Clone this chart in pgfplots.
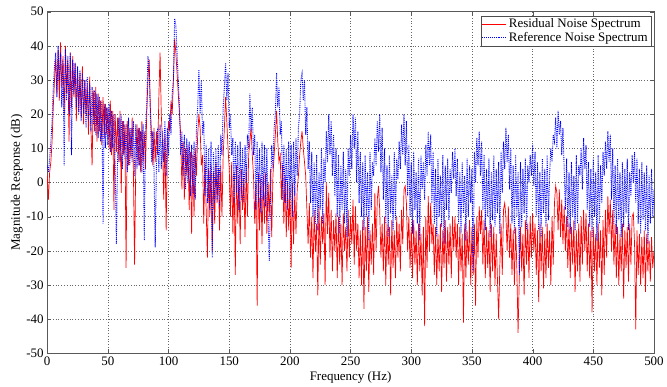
\documentclass[border={7.5pt 0pt 0pt 4pt}]{standalone}
\usepackage{fontspec}
\setmainfont{Liberation Serif}
\usepackage{pgfplots}
\pgfplotsset{compat=1.18}
\usepackage{pgfplotstable}

\pgfplotstableread[header=false,row sep=\\]{
2\\ -5\\ 3\\ 6\\ 12\\ 22\\ 30\\ 36\\ 26\\ 39\\
24\\ 41\\ 28\\ 37\\ 20\\ 40\\ 26\\ 36\\ 12\\ 38\\
22\\ 37\\ 25\\ 35\\ 18\\ 33\\ 21\\ 32\\ 19\\ 34\\
17\\ 30\\ 20\\ 29\\ 14\\ 31\\ 16\\ 5\\ 27\\ 15\\
28\\ 12\\ 26\\ 15\\ 24\\ 11\\ 25\\ 13\\ 23\\ 14\\
22\\ 10\\ 24\\ 8\\ 21\\ -8\\ 20\\ 9\\ 19\\ 6\\
21\\ -3\\ 18\\ 8\\ 17\\ -25\\ 18\\ 5\\ 16\\ 7\\
19\\ 4\\ -24\\ 6\\ 17\\ 5\\ 16\\ 3\\ 18\\ 6\\
15\\ 4\\ 20\\ 30\\ 36\\ 22\\ 14\\ 5\\ 16\\ 6\\
15\\ 8\\ 25\\ 38\\ 20\\ 12\\ -5\\ 14\\ -14\\ 10\\
18\\ 15\\ 24\\ 20\\ 30\\ 42\\ 38\\ 32\\ 26\\ 20\\
14\\ -2\\ 12\\ -5\\ 10\\ 2\\ 11\\ -8\\ 9\\ -15\\
8\\ -10\\ 10\\ 2\\ 14\\ 20\\ 16\\ 5\\ 8\\ -12\\
6\\ -8\\ -22\\ 4\\ -10\\ 5\\ -20\\ 3\\ -12\\ 6\\
-6\\ 4\\ -14\\ 5\\ -10\\ 8\\ 16\\ 25\\ 18\\ 10\\
4\\ -10\\ 6\\ -15\\ 3\\ -27\\ 5\\ -12\\ 2\\ -18\\
4\\ -8\\ 1\\ -16\\ 5\\ -10\\ 8\\ 12\\ 16\\ 8\\
2\\ -12\\ 0\\ -36\\ 3\\ -14\\ 1\\ -18\\ 2\\ -12\\
3\\ -15\\ 0\\ -10\\ 4\\ -16\\ 2\\ 8\\ 14\\ 21\\
12\\ 6\\ 8\\ -5\\ 5\\ -12\\ 2\\ -16\\ 0\\ -14\\
-2\\ -25\\ 0\\ -18\\ -3\\ -15\\ -2\\ 2\\ 8\\ 12\\
15\\ 10\\ 6\\ 2\\ -8\\ -18\\ -6\\ -22\\ -10\\ -28\\
-8\\ -20\\ -12\\ -33\\ -7\\ -24\\ -10\\ -18\\ -9\\ -30\\
0\\ -15\\ -3\\ -22\\ -8\\ -26\\ -11\\ -20\\ -9\\ -28\\
-10\\ -24\\ -12\\ -30\\ -9\\ -20\\ -13\\ -26\\ -8\\ -22\\
-10\\ -18\\ -5\\ -24\\ -7\\ -20\\ -12\\ -28\\ -14\\ -30\\
-11\\ -37\\ -13\\ -26\\ -10\\ -32\\ -14\\ -24\\ -12\\ -27\\
-3\\ -20\\ -5\\ -1\\ -8\\ -22\\ -12\\ -26\\ -10\\ -30\\
-12\\ -24\\ -13\\ -33\\ -11\\ -25\\ -14\\ -28\\ -10\\ -22\\
-12\\ -26\\ -8\\ -18\\ -2\\ -1\\ -6\\ -20\\ -10\\ -25\\
-13\\ -28\\ -11\\ -24\\ -14\\ -30\\ -12\\ -26\\ -15\\ -33\\
-13\\ -42\\ -10\\ -25\\ -4\\ -20\\ -6\\ -18\\ -12\\ -27\\
-13\\ -30\\ -15\\ -26\\ -12\\ -32\\ -14\\ -25\\ -11\\ -29\\
-13\\ -24\\ -12\\ -28\\ -10\\ -20\\ -10\\ -22\\ -12\\ -30\\
-13\\ -26\\ -15\\ -41\\ -12\\ -28\\ -14\\ -24\\ -11\\ -30\\
-13\\ -27\\ -12\\ -36\\ -10\\ -22\\ -7\\ -15\\ -8\\ -24\\
-11\\ -28\\ -13\\ -25\\ -14\\ -32\\ -12\\ -26\\ -13\\ -30\\
-15\\ -28\\ -40\\ -24\\ -12\\ -27\\ -8\\ -6\\ -10\\ -20\\
-7\\ -22\\ -12\\ -27\\ -14\\ -30\\ -13\\ -25\\ -44\\ -28\\
-13\\ -26\\ -15\\ -33\\ -11\\ -24\\ -12\\ -28\\ -10\\ -22\\
-9\\ -20\\ -12\\ -27\\ -14\\ -35\\ -12\\ -26\\ -13\\ -31\\
-15\\ -28\\ -12\\ -25\\ -14\\ -30\\ -10\\ -24\\ -6\\ -1\\
-3\\ -14\\ -2\\ -16\\ -5\\ -18\\ -7\\ -20\\ -10\\ -25\\
-12\\ -28\\ -13\\ -24\\ -11\\ -32\\ -14\\ -26\\ -12\\ -29\\
-10\\ -24\\ -8\\ -20\\ -9\\ -26\\ -12\\ -28\\ -14\\ -38\\
-13\\ -26\\ -15\\ -30\\ -12\\ -25\\ -14\\ -33\\ -11\\ -27\\
-8\\ -22\\ -4\\ -15\\ -5\\ -20\\ -8\\ -24\\ -12\\ -28\\
-13\\ -30\\ -15\\ -26\\ -12\\ -34\\ -14\\ -25\\ -13\\ -29\\
-12\\ -24\\ -10\\ -9\\ -18\\ -43\\ -14\\ -27\\ -15\\ -30\\
-16\\ -28\\ -14\\ -32\\ -15\\ -26\\ -17\\ -29\\ -16\\ -25\\
-20\\
}\residual

\pgfplotstableread[header=false,row sep=\\]{
5\\ 3\\ 7\\ 12\\ 18\\ 28\\ 34\\ 38\\ 25\\ 40\\
30\\ 38\\ 22\\ 36\\ 5\\ 39\\ 24\\ 37\\ 20\\ 38\\
8\\ 36\\ 26\\ 35\\ 22\\ 34\\ 20\\ 33\\ 18\\ 32\\
20\\ 30\\ 16\\ 31\\ 18\\ 29\\ 15\\ 28\\ 17\\ 27\\
14\\ 26\\ 13\\ 25\\ 12\\ 24\\ -12\\ 23\\ 10\\ 22\\
11\\ 23\\ 9\\ 21\\ 10\\ 20\\ 5\\ -18\\ 8\\ 19\\
6\\ 20\\ 4\\ 18\\ 7\\ 17\\ 3\\ 19\\ 5\\ 16\\
6\\ 18\\ 2\\ 17\\ 4\\ 16\\ 5\\ 15\\ 3\\ 17\\
-17\\ 16\\ 22\\ 37\\ 34\\ 20\\ 6\\ 15\\ 4\\ -19\\
5\\ 16\\ 3\\ 17\\ 4\\ 15\\ 6\\ 18\\ 2\\ 16\\
8\\ 20\\ 14\\ 26\\ 30\\ 48\\ 46\\ 38\\ 30\\ 22\\
8\\ 15\\ 2\\ 14\\ -2\\ 13\\ 0\\ 12\\ -4\\ 11\\
-3\\ 12\\ -5\\ 16\\ 22\\ 33\\ 20\\ 30\\ 14\\ 18\\
-4\\ 11\\ -6\\ 10\\ -8\\ 12\\ -22\\ 9\\ -6\\ 10\\
-5\\ 11\\ -7\\ 14\\ 8\\ 22\\ 28\\ 35\\ 24\\ 32\\
16\\ 20\\ 8\\ 13\\ -6\\ 12\\ -3\\ 11\\ -8\\ 12\\
-5\\ 10\\ -6\\ 11\\ 0\\ 14\\ 10\\ 26\\ 15\\ 22\\
8\\ 14\\ -8\\ 12\\ -6\\ 10\\ -9\\ 12\\ -5\\ 11\\
-7\\ 10\\ -10\\ -23\\ -4\\ 11\\ 4\\ 16\\ 20\\ 32\\
22\\ 28\\ 14\\ 18\\ -5\\ 11\\ -6\\ 10\\ -8\\ 12\\
-5\\ 11\\ -10\\ 12\\ -4\\ 13\\ 2\\ 16\\ 20\\ 30\\
32\\ 24\\ 30\\ 14\\ 22\\ 4\\ 12\\ -6\\ 9\\ -10\\
6\\ -12\\ 8\\ -14\\ 3\\ -8\\ 10\\ -12\\ 7\\ 0\\
15\\ 6\\ 20\\ 8\\ 18\\ 2\\ 14\\ -4\\ 10\\ -10\\
8\\ -15\\ 5\\ -8\\ 9\\ -12\\ 4\\ -16\\ 10\\ 2\\
14\\ 4\\ 20\\ 10\\ 19\\ 0\\ 15\\ -6\\ 9\\ -10\\
6\\ -14\\ 8\\ -10\\ 3\\ -17\\ 9\\ -8\\ 6\\ 2\\
13\\ 5\\ 18\\ 9\\ 20\\ 3\\ 16\\ -5\\ 10\\ -12\\
5\\ -16\\ 8\\ -9\\ 2\\ -14\\ 9\\ -11\\ 7\\ 1\\
12\\ 4\\ 17\\ 8\\ 20\\ 5\\ 18\\ -4\\ 11\\ -10\\
6\\ -15\\ 9\\ -8\\ 3\\ -12\\ 7\\ -17\\ 8\\ -2\\
6\\ -5\\ 11\\ 2\\ 15\\ 5\\ 14\\ -6\\ 9\\ -12\\
4\\ -16\\ 7\\ -10\\ 2\\ -13\\ 8\\ -18\\ 5\\ -8\\
7\\ -11\\ 4\\ -3\\ 9\\ 1\\ 10\\ -4\\ 7\\ -12\\
3\\ -15\\ 6\\ -9\\ 2\\ -17\\ 7\\ -10\\ 5\\ -6\\
4\\ -26\\ 9\\ 0\\ 13\\ 5\\ 15\\ 2\\ 12\\ -8\\
8\\ -14\\ 4\\ -10\\ 7\\ -16\\ 3\\ -11\\ 8\\ -13\\
4\\ -9\\ 6\\ -15\\ 9\\ -3\\ 12\\ 4\\ 16\\ 6\\
14\\ -2\\ 10\\ -12\\ 5\\ -15\\ 8\\ -10\\ 3\\ -27\\
6\\ -13\\ 4\\ -9\\ 7\\ -14\\ 5\\ 0\\ 8\\ 2\\
11\\ -1\\ 9\\ -10\\ 6\\ -14\\ 3\\ -16\\ 7\\ -9\\
4\\ -13\\ 8\\ -11\\ 2\\ 10\\ 6\\ 14\\ 12\\ 19\\
10\\ 21\\ 14\\ 18\\ 8\\ 16\\ 4\\ -8\\ 7\\ -13\\
3\\ -15\\ 6\\ -10\\ 2\\ -14\\ 8\\ -12\\ 5\\ 2\\
10\\ -2\\ 13\\ 4\\ 11\\ -8\\ 6\\ -13\\ 4\\ -16\\
7\\ -10\\ 3\\ -17\\ 8\\ -12\\ 5\\ -6\\ 9\\ 2\\
12\\ 4\\ 15\\ 6\\ 14\\ -5\\ 10\\ -12\\ 5\\ -15\\
7\\ -11\\ 3\\ -16\\ 6\\ -13\\ 4\\ -9\\ 7\\ -14\\
3\\ -4\\ 8\\ 0\\ 9\\ -6\\ 7\\ -12\\ 4\\ -15\\
6\\ -11\\ 3\\ -14\\ 5\\ -18\\ 2\\ -12\\ 4\\ -10\\
-2\\
}\reference

\begin{document}
\begin{tikzpicture}
\begin{axis}[
  width=609pt, height=343pt, scale only axis,
  xmin=0, xmax=500, ymin=-50, ymax=50,
  xtick={0,50,...,500}, ytick={-50,-40,...,50},
  tick align=inside,
  major tick length=4pt,
  axis line style={gray!70!black, line width=0.6pt},
  tick style={gray!70!black},
  grid=major,
  major grid style={black!60, dash pattern=on 0.8pt off 2pt, line width=0.6pt},
  /pgf/number format/assume math mode=true,
  ticklabel style={font=\fontsize{13}{15}\selectfont},
  label style={font=\fontsize{13}{15}\selectfont},
  xlabel={Frequency (Hz)},
  ylabel={Magnitude Response (dB)},
  xlabel style={yshift=1pt},
  ylabel style={yshift=-3pt},
  legend style={at={(0.995,0.988)}, anchor=north east,
    font=\fontsize{13}{15}\selectfont, draw=black!70,
    inner sep=1pt, row sep=-1pt, cells={anchor=west}},
  legend cell align=left,
  legend image code/.code={\draw[#1] (0cm,0cm) -- (0.85cm,0cm);},
]
\addplot[red, line width=0.7pt] table[x expr=\coordindex, y index=0] {\residual};
\addlegendentry{Residual Noise Spectrum}
\addplot[blue, densely dotted, line width=0.9pt] table[x expr=\coordindex, y index=0] {\reference};
\addlegendentry{Reference Noise Spectrum}
\end{axis}
\end{tikzpicture}
\end{document}
